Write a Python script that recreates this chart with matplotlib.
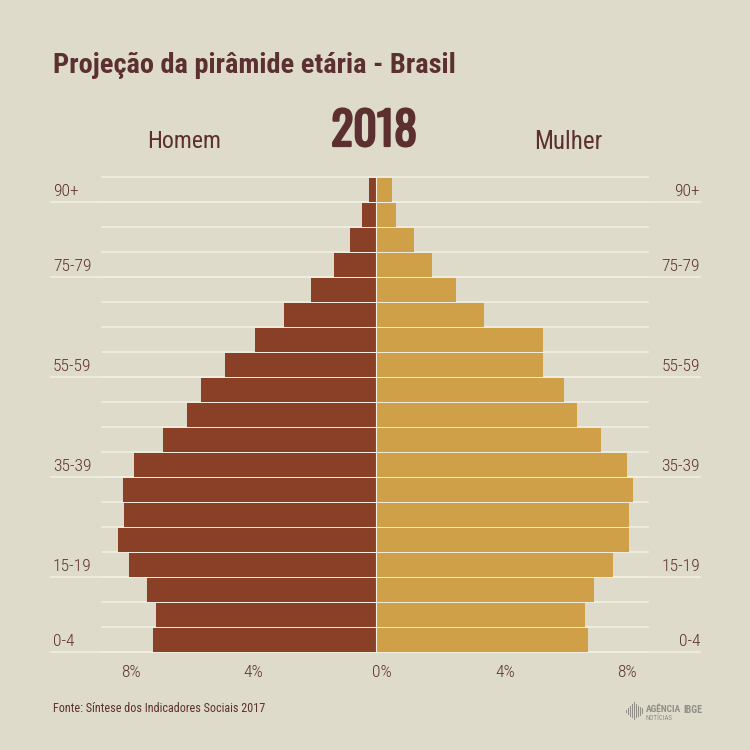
'''
piramide etaria 2018
'''
import matplotlib
matplotlib.use('Agg')
import matplotlib.pyplot as plt
import matplotlib.patheffects as pe
from matplotlib.patches import Rectangle
from matplotlib.transforms import blended_transform_factory, ScaledTranslation
import numpy as np
import warnings
warnings.filterwarnings('ignore')
import logging
logging.getLogger('matplotlib.font_manager').setLevel(logging.ERROR)

# from the youngest to the oldest group, % of population
ages = ['0-4', '5-9', '10-14', '15-19', '20-24', '25-29', '30-34', '35-39', '40-44', '45-49',
        '50-54', '55-59', '60-64', '65-69', '70-74', '75-79', '80-84', '85-89', '90+']
shown_ages = ['0-4', '15-19', '35-39', '55-59', '75-79', '90+']
homem = [7.18, 7.08, 7.37, 7.95, 8.31, 8.11, 8.15, 7.79, 6.85, 6.08,
         5.63, 4.85, 3.89, 2.95, 2.08, 1.34, 0.82, 0.44, 0.21]
mulher = [6.85, 6.76, 7.05, 7.66, 8.18, 8.18, 8.31, 8.11, 7.27, 6.5,
          6.08, 5.4, 5.4, 3.5, 2.6, 1.82, 1.24, 0.66, 0.53]
xticks = [-8, -4, 0, 4, 8]
xticklabels = ['8%', '4%', '0%', '4%', '8%']
logo_heights = [3, 7, 11, 14, 18, 14, 11, 9, 6]

BG = '#dedbca'
BROWN = '#8a3f27'
AMBER = '#d0a048'
TEXT = '#5c3030'
LINE = '#f1efe1'
GREY = '#8f8f88'
COND = ['Roboto Condensed', 'Liberation Sans Narrow', 'DejaVu Sans']
NARROW = ['Oswald', 'Roboto Condensed', 'DejaVu Sans']

plt.rcParams['font.family'] = COND

fig = plt.figure(figsize=(7.5, 7.5), dpi=100, facecolor=BG)
ax = fig.add_axes([102 / 750, 1 - 652 / 750, 546 / 750, 475.5 / 750])
ax.set_facecolor('none')
px = 31
ax.set_xlim((102 - 375.5) / px, (648 - 375.5) / px)
ax.set_ylim(0, 19)

y = np.arange(len(ages))
# bars leave a small gap under the line of the row above
ax.barh(y + 0.47, -np.array(homem), height=0.94, color=BROWN, zorder=2)
ax.barh(y + 0.47, mulher, height=0.94, color=AMBER, zorder=2)
ax.axvline(0, color=LINE, lw=0.8, zorder=3)

# long lines close the rows that have a label
ytrans = blended_transform_factory(fig.transFigure, ax.transData)
for i in range(len(ages) + 1):
    labelled = i < len(ages) and ages[i] in shown_ages
    ax.axhline(i, color=LINE, lw=1.2, zorder=1, clip_on=False)
    if labelled:
        ax.plot([51 / 750, 700 / 750], [i, i], color=LINE, lw=1.2, transform=ytrans, clip_on=False, zorder=1)
        ax.text(53 / 750, i + 0.41, ages[i], transform=ytrans, color=TEXT, fontsize=12.6, weight=300, ha='left', va='center')
        ax.text(700 / 750, i + 0.41, ages[i], transform=ytrans, color=TEXT, fontsize=12.6, weight=300, ha='right', va='center')

for s in ax.spines.values():
    s.set_visible(False)
ax.set_yticks([])
ax.set_xticks(xticks, xticklabels)
ax.tick_params(axis='x', length=0, pad=9.5, labelsize=12.6, labelcolor=TEXT)
# the labels do not sit exactly under their ticks
for t, shift in zip(ax.get_xticklabels(), [3.5, 1.5, 6.5, 5.5, 3]):
    t.set_fontweight(300)
    t.set_transform(t.get_transform() + ScaledTranslation(shift / 100, 0, fig.dpi_scale_trans))

fig.text(53 / 750, 1 - 65.5 / 750, 'Projeção da pirâmide etária - Brasil', color=TEXT, fontsize=20.4, weight='bold', ha='left', va='center')
# no bold cut of the narrow font, so thicken it with a stroke
fig.text(374 / 750, 1 - 131.5 / 750, '2018', color=TEXT, fontsize=33, family=NARROW, ha='center', va='center',
         path_effects=[pe.withStroke(linewidth=1.6, foreground=TEXT)])
fig.text(184 / 750, 1 - 142 / 750, 'Homem', color=TEXT, fontsize=17.2, ha='center', va='center')
fig.text(568 / 750, 1 - 142 / 750, 'Mulher', color=TEXT, fontsize=18, ha='center', va='center')
fig.text(53 / 750, 1 - 708 / 750, 'Fonte: Síntese dos Indicadores Sociais 2017', color=TEXT, fontsize=8.7, ha='left', va='center')

# agencia ibge logo
for i, h in enumerate(logo_heights):
    fig.add_artist(Rectangle(((626 + i * 2) / 750, 1 - (711 + h / 2) / 750), 1 / 750, h / 750, color=GREY, lw=0, transform=fig.transFigure))
fig.text(646 / 750, 1 - 710 / 750, 'AGÊNCIA', color=GREY, fontsize=6.8, weight='bold', ha='left', va='center')
fig.text(683 / 750, 1 - 710 / 750, 'IBGE', color=GREY, fontsize=7.2, weight='bold', ha='left', va='center')
fig.text(646 / 750, 1 - 718.5 / 750, 'NOTÍCIAS', color=GREY, fontsize=5, ha='left', va='center')

fig.savefig('out.png', dpi=100, facecolor=BG)
